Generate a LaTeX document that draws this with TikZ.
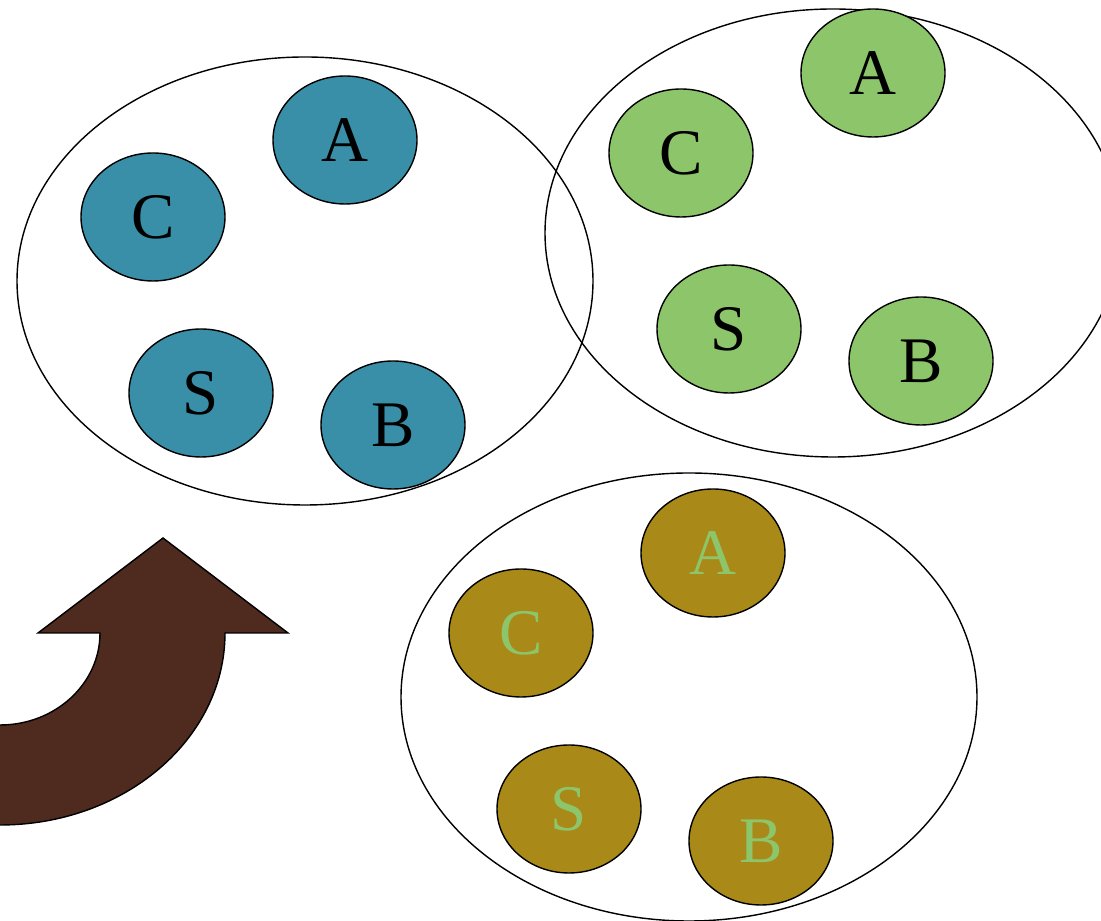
\documentclass[tikz,border=0pt]{standalone}
\usepackage{fontspec}
\setmainfont{Liberation Serif}
\usetikzlibrary{shapes,positioning}
\definecolor{blueset}{HTML}{3A8FA8}
\definecolor{greenset}{HTML}{8DC66A}
\definecolor{goldset}{HTML}{A98A18}
\definecolor{arrowbrown}{HTML}{4E2A1F}

\begin{document}
\begin{tikzpicture}[on grid,
	group/.style={ellipse, draw, line width=0.8pt, inner sep=0pt, minimum width=11.52cm, minimum height=8.96cm},
	elem/.style={ellipse, draw, line width=0.8pt, inner sep=0pt, minimum width=2.88cm, minimum height=2.56cm, font=\rmfamily\fontsize{37}{40}\selectfont}]
	\useasboundingbox (0,0) rectangle (22.02,18.42);
	\clip (0,0) rectangle (22.02,18.42);
	
	% curved arrow
	\draw[fill=arrowbrown, line width=0.8pt] (-0.1,3.92) -- (0,3.92) arc[start angle=-90, end angle=0, x radius=2cm, y radius=1.84cm]
		-- (0.76,5.76) -- (3.26,7.66) -- (5.76,5.76) -- (4.5,5.76)
		arc[start angle=0, end angle=-90, x radius=4.5cm, y radius=3.84cm] -- (-0.1,1.92) -- cycle;
	
	% the three sets
	\node[group] (G1) at (6.10,12.80) {};
	\node[group] (G2) at (16.66,13.76) {};
	\node[group] (G3) at (13.78,4.48) {};
	
	\node[elem, fill=blueset] (G1A) [above right = 2.82cm and 0.8cm of G1] {A};
	\node[elem, fill=blueset] (G1C) [above left = 1.28cm and 3.04cm of G1] {C};
	\node[elem, fill=blueset] (G1S) [below left = 2.24cm and 2.08cm of G1] {S};
	\node[elem, fill=blueset] (G1B) [below right = 2.88cm and 1.76cm of G1] {B};
	
	\node[elem, fill=greenset] (G2A) [above right = 3.2cm and 0.8cm of G2] {A};
	\node[elem, fill=greenset] (G2C) [above left = 1.6cm and 3.04cm of G2] {C};
	\node[elem, fill=greenset] (G2S) [below left = 1.92cm and 2.08cm of G2] {S};
	\node[elem, fill=greenset] (G2B) [below right = 2.56cm and 1.76cm of G2] {B};
	
	\node[elem, fill=goldset, text=greenset] (G3A) [above right = 2.88cm and 0.48cm of G3] {A};
	\node[elem, fill=goldset, text=greenset] (G3C) [above left = 1.28cm and 3.36cm of G3] {C};
	\node[elem, fill=goldset, text=greenset] (G3S) [below left = 2.24cm and 2.4cm of G3] {S};
	\node[elem, fill=goldset, text=greenset] (G3B) [below right = 2.88cm and 1.44cm of G3] {B};
\end{tikzpicture}
\end{document}
